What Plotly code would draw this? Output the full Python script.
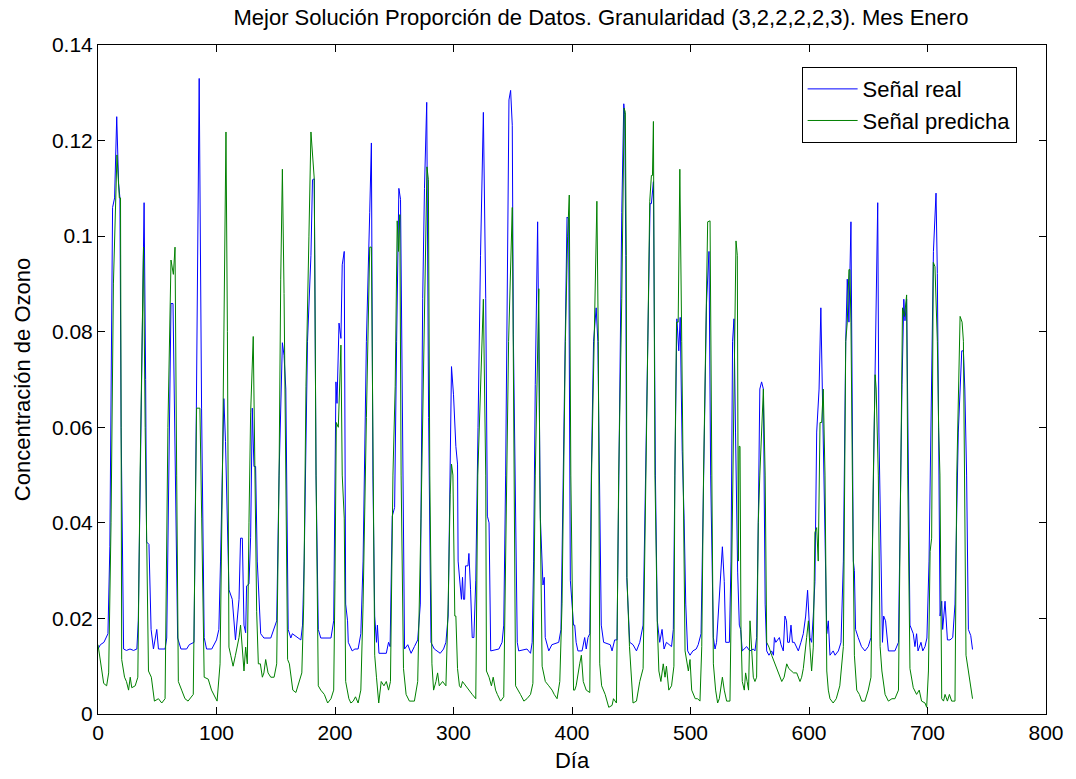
import plotly.graph_objects as go

title_text = "Mejor Solución Proporción de Datos. Granularidad (3,2,2,2,2,3). Mes Enero"
x_label = "Día"
y_label = "Concentración de Ozono"
series_names = ["Señal real", "Señal predicha"]
x_ticks = [0, 100, 200, 300, 400, 500, 600, 700, 800]
y_ticks = [0, 0.02, 0.04, 0.06, 0.08, 0.10, 0.12, 0.14]
y_tick_text = ["0", "0.02", "0.04", "0.06", "0.08", "0.1", "0.12", "0.14"]

# (hour, value)
senal_real = [
(0,0.0136),(2,0.0145),(5,0.015),(8.4,0.0168),(10,0.035),(11.5,0.09),(12.3,0.106),(14,0.108),(15.8,0.125),(17.4,0.111),(18.5,0.108),(19.5,0.06),(21.6,0.0136),(24,0.0133),(27,0.0136),(30,0.0133),(32.8,0.0136),(34,0.0195),(36,0.06),(38.9,0.107),(40.2,0.07),(41,0.036),(43,0.0355),(44.8,0.0177),(46.8,0.0136),(49.6,0.0177),(51,0.0136),(56.6,0.0136),(58,0.0159),(60,0.06),(61.6,0.0859),(63.3,0.0859),(64,0.072),(65,0.062),(67.2,0.0159),(70,0.0136),(74.8,0.0136),(77,0.0145),(81,0.015),(83,0.064),(85.4,0.133),(87.4,0.064),(89.6,0.016),(91.6,0.0136),(96,0.0136),
(100,0.0155),(102,0.0177),(103.4,0.032),(106.2,0.066),(107.6,0.057),(109,0.041),(110.5,0.026),(113.3,0.024),(114.7,0.0195),(116,0.0155),(119,0.024),(120.3,0.0368),(121.8,0.0368),(123.2,0.0186),(124.6,0.017),(125.4,0.0268),(127.4,0.0272),(128.8,0.037),(130.2,0.064),(131.6,0.0518),(133,0.0518),(134.4,0.032),(137.3,0.0168),(140,0.0159),(145.8,0.0159),(150.8,0.0195),(152.8,0.05),(155.6,0.0777),(157,0.075),(158.5,0.068),(160.5,0.0177),(162.7,0.0159),(164,0.0168),(168.4,0.0159),(171.2,0.0155),(172.6,0.0186),(174,0.032),(176.8,0.078),(179.7,0.096),(181,0.1118),(182.5,0.112),(184,0.05),(185.9,0.0177),(188,0.0159),(196.6,0.0159),(198.9,0.0195),
(200.8,0.0695),(201.7,0.065),(203.4,0.0818),(205,0.0786),(206.1,0.094),(207.8,0.0968),(209,0.023),(210.6,0.0195),(211.2,0.015),(214.5,0.0132),(216.8,0.0136),(219.5,0.0136),(221.8,0.0168),(223.7,0.032),(226.5,0.078),(229.3,0.105),(230.7,0.1195),(232,0.05),(233.5,0.0205),(235,0.015),(235.8,0.0186),(237.1,0.0127),(243.3,0.0127),(245.2,0.015),(246.5,0.0141),(248.3,0.0414),(250.3,0.0432),(252,0.078),(253.9,0.11),(255.3,0.1077),(257.3,0.05),(258.7,0.0136),(261.4,0.0145),(264.2,0.0127),(267,0.0141),(269.8,0.0155),(272,0.023),(274,0.087),(275.5,0.11),(277.4,0.128),(279,0.062),(281,0.015),(283.8,0.0136),(288.8,0.0127),(291.6,0.0136),(293.6,0.015),(295.5,0.0205),(297.2,0.05),(298.3,0.0727),
(300,0.0668),(302,0.056),(303.4,0.0523),(303.9,0.032),(305.6,0.027),(306.7,0.024),(307.6,0.0286),(308.4,0.024),(309.4,0.024),(310.2,0.031),(312.2,0.031),(313,0.0336),(314.4,0.026),(315.8,0.016),(317.2,0.016),(318.8,0.028),(320.7,0.06),(322.8,0.096),(325.2,0.1259),(327.2,0.087),(328.6,0.0414),(330,0.04),(331.4,0.0132),(338.3,0.0136),(341,0.015),(342.4,0.0186),(344,0.05),(345.4,0.096),(346.8,0.1285),(348.2,0.1305),(349.6,0.1232),(350.5,0.0795),(352,0.05),(353.8,0.015),(355,0.0132),(362,0.0136),(365,0.0127),(366.4,0.015),(367.6,0.032),(369,0.069),(371,0.103),(372,0.078),(373.3,0.041),(375.5,0.027),(376.6,0.0286),(377.4,0.016),(380.4,0.0132),(383,0.0145),(388.8,0.015),(390.7,0.0177),(393,0.06),(395.8,0.104),(397.2,0.1036),(398.6,0.028),
(401.3,0.0186),(402.3,0.0186),(403.5,0.015),(405,0.0132),(408.5,0.0132),(410.7,0.016),(412,0.0136),(413.5,0.016),(415,0.0168),(416.3,0.05),(418.2,0.078),(420.4,0.085),(421.8,0.078),(423,0.05),(424.7,0.0186),(426.7,0.015),(432.3,0.0145),(433.8,0.0132),(436,0.0155),(438,0.0155),(440,0.06),(442,0.105),(443.7,0.1277),(444.5,0.1255),(445.4,0.096),(446.2,0.0286),(448.7,0.015),(451.5,0.0145),(454.4,0.0132),(457.2,0.015),(460,0.0186),(462,0.05),(464.2,0.086),(465.9,0.1068),(467,0.1068),(468.7,0.1114),(470.4,0.05),(472,0.0195),(474,0.015),(476,0.0177),(477.7,0.0136),(479.7,0.015),(484,0.0141),(485.5,0.0177),(486.8,0.05),(488.5,0.0827),(490.1,0.076),(491.3,0.083),(493,0.055),(494.6,0.041),(496,0.023),(497.6,0.0132),(499.6,0.0123),
(502,0.0132),(504.8,0.0136),(506.5,0.0145),(508.9,0.0168),(510,0.032),(511.7,0.064),(513.5,0.086),(515.6,0.0968),(517,0.05),(519.3,0.016),(520.7,0.0136),(522,0.015),(524,0.023),(525.7,0.032),(526.9,0.035),(528.5,0.0277),(529.7,0.015),(532.8,0.015),(534.2,0.032),(535.5,0.078),(536.7,0.0827),(538,0.059),(539.8,0.0297),(541.2,0.0186),(542.3,0.0177),(543.7,0.0132),(547.4,0.0141),(550,0.0132),(553,0.0136),(554.4,0.0132),(555.8,0.016),(557.2,0.04),(558.5,0.068),(560,0.0695),(561.5,0.068),(563,0.023),(564.3,0.0132),(566.2,0.0123),(568.5,0.0132),(570,0.0123),(570.8,0.016),(572,0.015),(573.6,0.0155),(575,0.016),(576.4,0.0145),(578.3,0.0132),(579.7,0.0205),(581,0.0195),(582,0.015),(583.4,0.015),(584.8,0.0186),(586,0.015),(587.6,0.015),(589.6,0.0141),(591,0.0132),(593.2,0.015),(595.2,0.0168),(597.2,0.0205),(598.8,0.0259),
(600.8,0.016),(602.2,0.015),(603.6,0.0205),(605,0.0277),(606.5,0.059),(608.5,0.068),(610,0.085),(611.3,0.068),(612.5,0.05),(613.7,0.041),(615,0.0168),(616.3,0.0195),(617.7,0.0123),(620.4,0.0132),(622,0.0123),(624.8,0.0132),(627,0.015),(629,0.032),(631,0.078),(632.3,0.091),(633.7,0.082),(635.4,0.103),(636.6,0.059),(637.4,0.032),(638.3,0.03),(639.3,0.0177),(641.5,0.016),(644.3,0.0141),(647.2,0.0132),(650,0.0141),(652.3,0.016),(654.3,0.05),(656.3,0.078),(658,0.107),(659,0.059),(660.7,0.032),(662,0.015),(663,0.0205),(664.6,0.0195),(667,0.0132),(672.5,0.0132),(675.5,0.015),(676.8,0.041),(678.5,0.069),(680,0.0868),(681,0.0823),(682.4,0.0868),(683.8,0.05),(685.2,0.0186),(688,0.0168),(689.4,0.0141),(690.8,0.0168),(692,0.0132),(694.5,0.015),(696,0.0132),(697.9,0.0141),(699.5,0.0159),
(701.3,0.032),(703,0.059),(705,0.0968),(707.2,0.109),(708.3,0.0922),(709.4,0.059),(710.6,0.0205),(712,0.0236),(712.8,0.0177),(714.8,0.0236),(716.8,0.0155),(719,0.0155),(721.3,0.016),(723.2,0.023),(726,0.059),(728.9,0.076),(730.3,0.076),(731.5,0.068),(733,0.05),(734.5,0.0177),(736.5,0.0164),(738,0.0135)]

senal_predicha = [
(0,0.0145),(2,0.0114),(4.8,0.0064),(7.3,0.0059),(9,0.0086),(11,0.04),(13,0.09),(16,0.117),(18,0.108),(19,0.108),(20,0.0114),(22.4,0.0077),(24,0.0068),(25.8,0.005),(27.2,0.0077),(28.5,0.0055),(31.4,0.0059),(33.6,0.0077),(35.5,0.05),(38.4,0.0977),(39.8,0.06),(42.6,0.009),(45,0.0077),(47.6,0.0027),(51,0.0032),(53.8,0.0023),(56.6,0.0032),(59,0.06),(61.6,0.095),(63.6,0.092),(65,0.0977),(66.4,0.05),(67.8,0.0068),(70.6,0.005),(73.4,0.0032),(76,0.0027),(80.4,0.0041),(83.2,0.064),(86,0.064),(87.5,0.041),(89.6,0.0077),(93,0.0073),(95.8,0.005),
(100.5,0.0027),(103,0.0105),(105,0.05),(106.8,0.1),(108,0.1218),(109.2,0.08),(110.5,0.014),(112,0.0123),(114,0.01),(116,0.0123),(119,0.016),(120.3,0.0186),(121.8,0.014),(123.2,0.009),(124.6,0.014),(126,0.0105),(127.4,0.04),(128.8,0.063),(131,0.079),(132.2,0.05),(133.9,0.0214),(135.3,0.0105),(137,0.0105),(138.7,0.0077),(140,0.0086),(141.5,0.0114),(143.5,0.0086),(145.8,0.0077),(148.6,0.0077),(150.8,0.0105),(152.8,0.05),(154.2,0.091),(155.6,0.114),(157,0.088),(158.5,0.05),(160,0.0114),(161.5,0.0105),(164.4,0.005),(167,0.0045),(170,0.0068),(172,0.0086),(173.6,0.023),(175.5,0.0686),(178,0.1),(179.7,0.1218),(182.5,0.112),(184,0.05),(185.9,0.0059),(188,0.005),(191,0.0041),(193.8,0.0023),(196.6,0.0032),(198.9,0.005),
(200,0.028),(201.1,0.061),(202.8,0.06),(205,0.0772),(206.1,0.05),(207.8,0.041),(209,0.0068),(210.6,0.005),(211.7,0.0032),(213.4,0.0023),(215.4,0.0027),(217.3,0.0036),(219.5,0.0023),(221.8,0.005),(223.7,0.023),(226.5,0.062),(228,0.0777),(229.3,0.0977),(230.7,0.0977),(232,0.05),(233.5,0.0123),(235,0.0077),(236.9,0.0023),(239,0.0068),(241.3,0.0059),(243.3,0.0068),(245.2,0.005),(246.8,0.0068),(248.9,0.05),(250.8,0.0686),(252.5,0.1032),(253.6,0.0968),(254.7,0.1045),(255.8,0.05),(257.8,0.0095),(260,0.0041),(262.8,0.0027),(267,0.0027),(269.8,0.0068),(272.6,0.041),(275.4,0.0777),(277.6,0.1145),(278.8,0.1118),(280,0.05),(281.8,0.0105),(283.2,0.005),(285.2,0.0068),(286.6,0.0086),(288,0.0059),(290.8,0.0068),(293.6,0.0059),(295.5,0.023),(297.2,0.046),(298.3,0.0523),(299.5,0.05),
(301.1,0.0205),(302,0.0205),(303.4,0.0095),(305,0.0059),(306.2,0.0055),(307.6,0.0068),(310.2,0.0059),(313,0.005),(315.8,0.0041),(318.8,0.0032),(320.5,0.05),(322.8,0.068),(325.2,0.0868),(327.2,0.05),(327.8,0.009),(330,0.0077),(332,0.0059),(333.5,0.0077),(335.5,0.005),(337,0.0041),(339.7,0.0027),(342.4,0.0036),(344,0.032),(346.5,0.078),(349.6,0.106),(351,0.05),(352.4,0.0059),(356.5,0.0041),(359.4,0.0027),(362,0.0032),(365,0.0041),(367,0.0064),(369,0.05),(372,0.089),(372.8,0.05),(374.8,0.01),(377.5,0.0068),(380.4,0.0059),(383.2,0.005),(385,0.0041),(387.4,0.0032),(389.7,0.0068),(391.6,0.0232),(394.4,0.078),(396.3,0.1),(397.7,0.1086),(399,0.05),
(401.3,0.005),(402.3,0.005),(403.5,0.0059),(405,0.0086),(406.5,0.0105),(407.9,0.0123),(409.5,0.0068),(412,0.005),(415,0.0045),(416.5,0.05),(419,0.085),(421,0.1073),(422.2,0.078),(423.4,0.0105),(425,0.0059),(428,0.0041),(431,0.0014),(433.8,0.0018),(435,0.0032),(437.5,0.0023),(439.4,0.05),(442,0.087),(444,0.1268),(445,0.1259),(445.8,0.096),(446.4,0.0286),(448.5,0.0141),(451.5,0.0023),(454.4,0.0027),(457.2,0.0068),(460,0.0095),(462,0.05),(464,0.078),(465.6,0.1073),(467,0.1127),(467.9,0.1127),(468.7,0.124),(470,0.05),(472,0.0186),(473.3,0.009),(475,0.0068),(477,0.0105),(478.5,0.0077),(479.7,0.01),(481.7,0.005),(484,0.0059),(486,0.01),(486.8,0.05),(488.2,0.082),(489.6,0.082),(491,0.114),(492.6,0.078),(494,0.05),(495.4,0.0132),(498.2,0.009),(499.6,0.0114),
(501,0.005),(504,0.0032),(506,0.0032),(508,0.0027),(509.5,0.0141),(511,0.05),(514.5,0.103),(516.5,0.1032),(518,0.05),(519.3,0.0105),(521.2,0.005),(522.9,0.0023),(524.3,0.0032),(525.7,0.0055),(526.9,0.0077),(528.5,0.005),(530.5,0.0027),(533.3,0.0027),(534.7,0.032),(537,0.068),(538.4,0.099),(539.5,0.096),(540.4,0.032),(541,0.056),(541.8,0.056),(542.6,0.0177),(543.7,0.0068),(545.4,0.005),(546.5,0.0086),(547.8,0.0068),(549,0.005),(550.2,0.0195),(551.6,0.014),(553,0.0077),(554.4,0.0068),(555.8,0.0077),(557.2,0.04),(558.5,0.05),(561.5,0.068),(563,0.05),(564.3,0.015),(566.2,0.014),(568.5,0.0123),(571.3,0.0105),(574.1,0.0086),(577,0.0068),(579,0.0077),(581.2,0.0105),(583,0.0095),(584.8,0.009),(587,0.0086),(589.6,0.0086),(592.4,0.0068),(593.8,0.0077),(595.2,0.0095),(598,0.016),(599.5,0.0195),
(600.8,0.014),(602.2,0.009),(603.6,0.014),(605,0.038),(606.5,0.039),(607.8,0.032),(609.3,0.061),(610.7,0.061),(612,0.068),(613.5,0.05),(615,0.009),(616.3,0.005),(617.7,0.0032),(620.4,0.0023),(623,0.0032),(626,0.0059),(629,0.0141),(631,0.078),(632.3,0.082),(633.7,0.093),(634.5,0.093),(635.4,0.082),(636.6,0.05),(638.3,0.0123),(640.3,0.005),(642.5,0.0041),(644.5,0.0027),(647.2,0.0027),(650,0.005),(652.3,0.0077),(654.3,0.05),(655.8,0.071),(656.7,0.068),(657.5,0.059),(658.5,0.05),(660,0.0141),(661.5,0.009),(664.2,0.0041),(667,0.0027),(670,0.0032),(672.5,0.0032),(675.5,0.005),(676.8,0.032),(678.9,0.085),(680.6,0.0832),(682.4,0.0877),(683.3,0.05),(685.2,0.0095),(688,0.0055),(690.8,0.0041),(693,0.005),(695,0.0027),(697.9,0.0023),(699.3,0.0014),
(700.8,0.009),(702.2,0.034),(703.5,0.0368),(704.9,0.0945),(706.3,0.0936),(708.3,0.078),(709.4,0.06),(710.5,0.05),(712,0.0032),(713.5,0.0027),(714.8,0.0041),(716.8,0.0027),(718.5,0.0041),(720.4,0.0027),(723.2,0.0027),(724.7,0.05),(727.5,0.0832),(729.2,0.082),(730.3,0.078),(731.5,0.05),(732.5,0.0123),(734.5,0.009),(736.5,0.005),(738,0.0032)]

real_x, real_y = zip(*senal_real)
pred_x, pred_y = zip(*senal_predicha)

font = "Liberation Sans, Arial, sans-serif"
fig = go.Figure()
fig.add_trace(go.Scatter(x=real_x, y=real_y, mode="lines", name=series_names[0],
                         line=dict(color="#0000ff", width=1)))
fig.add_trace(go.Scatter(x=pred_x, y=pred_y, mode="lines", name=series_names[1],
                         line=dict(color="#008000", width=1)))

axis_common = dict(showline=True, linecolor="black", linewidth=1, mirror="ticks",
                   ticks="inside", ticklen=7, tickcolor="black", showgrid=False,
                   zeroline=False, automargin=False,
                   tickfont=dict(family=font, size=21, color="black"))
fig.update_layout(
    width=1076, height=779,
    margin=dict(l=98, r=30, t=45, b=65, autoexpand=False),
    paper_bgcolor="white", plot_bgcolor="white",
    title=dict(text=title_text, x=0.5585, xanchor="center", y=0.978, yanchor="middle",
               font=dict(family=font, size=22, color="black")),
    xaxis=dict(range=[0, 800], tickvals=x_ticks, ticktext=[str(v) for v in x_ticks],
               title=dict(text=x_label, font=dict(family=font, size=22, color="black"), standoff=9),
               **axis_common),
    yaxis=dict(range=[0, 0.14], tickvals=y_ticks, ticktext=y_tick_text,
               title=dict(text=y_label, font=dict(family=font, size=22, color="black"), standoff=15),
               **axis_common),
    legend=dict(x=0.969, y=0.967, xanchor="right", yanchor="top",
                bgcolor="white", bordercolor="black", borderwidth=1,
                font=dict(family=font, size=22, color="black"),
                itemwidth=50, tracegroupgap=0),
    showlegend=True,
)
fig.write_html("out.html")
